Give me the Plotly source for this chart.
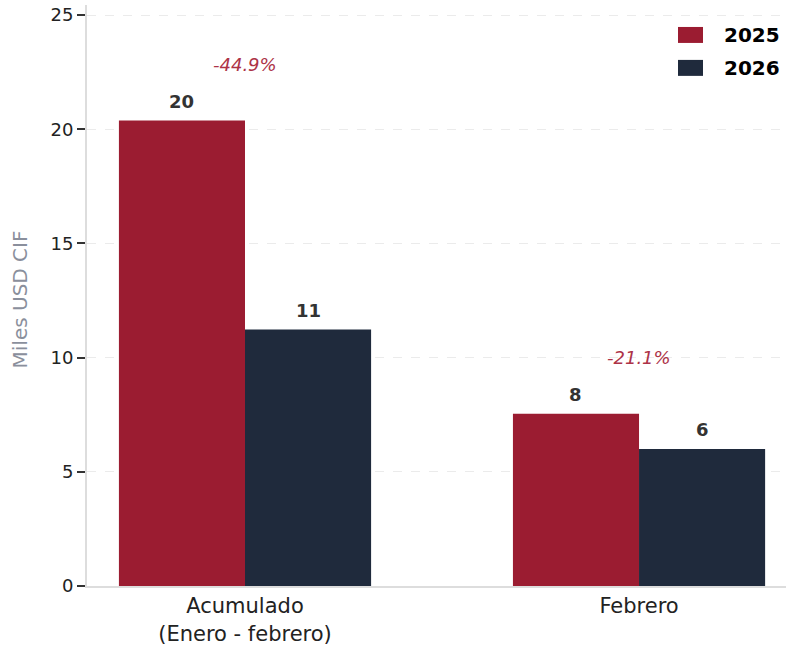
import plotly.graph_objects as go

categories = ["Acumulado<br>(Enero - febrero)", "Febrero"]
series_names = ["2025", "2026"]
values_2025 = [20.38, 7.54]
values_2026 = [11.23, 6.0]
value_labels_2025 = ["20", "8"]
value_labels_2026 = ["11", "6"]
pct_labels = ["-44.9%", "-21.1%"]
y_ticks = [0, 5, 10, 15, 20, 25]

RED = "#9B1C31"
NAVY = "#1F2A3C"
PCT = "#AD3347"
FONT = "DejaVu Sans"
BAR_W = 0.32

fig = go.Figure()
fig.add_trace(go.Bar(x=categories, y=values_2025, name=series_names[0],
                     marker=dict(color=RED, line=dict(width=0)), width=BAR_W,
                     offset=-BAR_W, showlegend=False, hoverinfo="skip"))
fig.add_trace(go.Bar(x=categories, y=values_2026, name=series_names[1],
                     marker=dict(color=NAVY, line=dict(width=0)), width=BAR_W,
                     offset=0, showlegend=False, hoverinfo="skip"))

annotations = []
for i in range(len(categories)):
    annotations.append(dict(x=i - BAR_W / 2, y=values_2025[i], xref="x", yref="y",
                            text=f"<b>{value_labels_2025[i]}</b>", showarrow=False,
                            yshift=19, font=dict(family=FONT, size=18, color="#333333")))
    annotations.append(dict(x=i + BAR_W / 2, y=values_2026[i], xref="x", yref="y",
                            text=f"<b>{value_labels_2026[i]}</b>", showarrow=False,
                            yshift=19, font=dict(family=FONT, size=18, color="#333333")))
    top = max(values_2025[i], values_2026[i])
    annotations.append(dict(x=i, y=top, xref="x", yref="y",
                            text=f"<i>{pct_labels[i]}</i>", showarrow=False,
                            yshift=56, font=dict(family=FONT, size=18, color=PCT)))

# y-axis title
annotations.append(dict(x=-0.096, y=0.493, xref="paper", yref="paper",
                        xanchor="center", yanchor="middle",
                        text="Miles USD CIF", textangle=-90, showarrow=False,
                        font=dict(family=FONT, size=20, color="#8A8F9C")))

# custom legend
shapes = []
legend_rows = [(series_names[0], RED, 0.9622, 0.9347), (series_names[1], NAVY, 0.9055, 0.8780)]
for name, col, y1, y0 in legend_rows:
    shapes.append(dict(type="rect", xref="paper", yref="paper", x0=0.8455, x1=0.8813,
                       y0=y0, y1=y1, fillcolor=col, line=dict(width=0)))
    annotations.append(dict(x=0.9084, y=(y0 + y1) / 2, xref="paper", yref="paper",
                            xanchor="left", yanchor="middle", text=f"<b>{name}</b>",
                            showarrow=False, font=dict(family=FONT, size=20, color="#000000")))

fig.update_layout(
    width=786, height=645,
    margin=dict(l=87, r=0, t=5, b=59, autoexpand=False),
    plot_bgcolor="white", paper_bgcolor="white",
    barmode="overlay",
    font=dict(family=FONT, color="#222222"),
    annotations=annotations,
    shapes=shapes,
    xaxis=dict(range=[-0.401, 1.373], showline=True, linecolor="#DDDDDD", linewidth=2,
               ticks="", showgrid=False, automargin=False,
               tickfont=dict(family=FONT, size=21, color="#222222"), fixedrange=True),
    yaxis=dict(range=[0, 25.44], tickvals=y_ticks, showline=True, linecolor="#DDDDDD",
               linewidth=2, ticks="outside", ticklen=8, tickwidth=2, tickcolor="#333333",
               showgrid=True, gridcolor="#EBEBEB", griddash="dash", gridwidth=1,
               zeroline=False, automargin=False,
               tickfont=dict(family=FONT, size=18, color="#222222"), fixedrange=True),
)

fig.write_html("out.html", config={"displayModeBar": False},
               post_script="document.body.style.margin='0';document.body.style.overflow='hidden';")
